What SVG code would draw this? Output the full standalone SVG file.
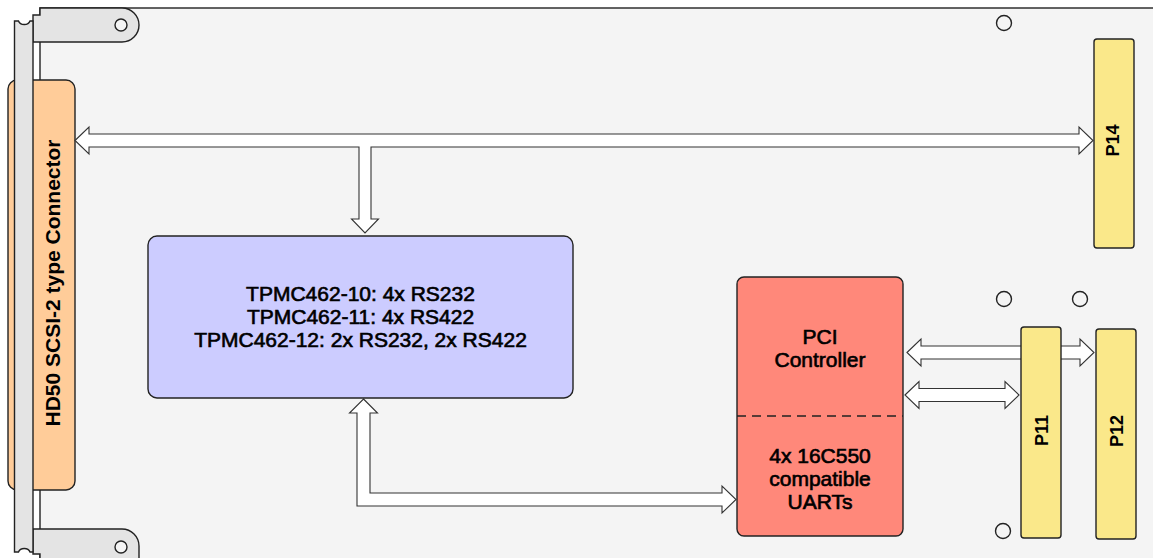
<svg xmlns="http://www.w3.org/2000/svg" width="1153" height="558" viewBox="0 0 1153 558">
<style>
.ol{stroke:#222;stroke-width:1.4}
.metal{fill:#e4e4e4;stroke:#222;stroke-width:1.4}
.hole{fill:#f4f4f4;stroke:#222;stroke-width:1.4}
.arr{fill:#ffffff;stroke:#333;stroke-width:1.1;stroke-linejoin:miter}
.t{font-family:"Liberation Sans",Arial,sans-serif;font-size:21px;fill:#000;stroke:#000;stroke-width:0.65;text-anchor:middle}
.tb{font-family:"Liberation Sans",Arial,sans-serif;font-weight:bold;fill:#000;text-anchor:middle}
.conn{fill:#fae88a;stroke:#222;stroke-width:1.4}
</style>
<rect x="0" y="0" width="1153" height="558" fill="#ffffff"/>
<g id="board">
<rect x="40" y="8" width="1125" height="565" fill="#f4f4f4" class="ol"/>
</g>
<g id="front-panel">
<path class="metal" d="M33,42 L33,15 L40,15 L40,8 L122,8 A17,17 0 0 1 122,42 Z"/>
<path class="metal" d="M33,529 L122,529 A17,17 0 0 1 139,546 L139,565 L40,565 L40,554 L33,554 Z"/>
<circle class="hole" cx="121" cy="25" r="6"/>
<circle class="hole" cx="121" cy="547" r="6"/>
</g>
<g id="hd50-connector">
<rect x="8" y="80" width="67" height="410" rx="9" ry="9" fill="#ffcc99" class="ol"/>
<path class="metal" d="M14.5,21 L18.5,21 A6,5 0 0 0 30,21 L33,21 L33,552 L30,552 A6,5 0 0 0 18.5,552 L14.5,552 Z"/>
<text class="tb" font-size="21" transform="translate(60,283) rotate(-90)">HD50 SCSI-2 type Connector</text>
</g>
<g id="holes">
<circle class="hole" cx="1004" cy="23" r="7.5"/>
<circle class="hole" cx="1004" cy="299" r="7.5"/>
<circle class="hole" cx="1080" cy="299" r="7.5"/>
<circle class="hole" cx="1003" cy="531" r="7.5"/>
</g>
<g id="connectors">
<path class="arr" d="M75,140.5 L89,127 L89,134 L1079,134 L1079,127 L1093,140.5 L1079,154 L1079,147 L371,147 L371,219 L378.5,219 L365,233 L351.5,219 L359,219 L359,147 L89,147 L89,154 Z"/>
<path class="arr" d="M363.5,399 L377.5,413 L370,413 L370,493 L722,493 L722,486 L736,499.5 L722,513 L722,506 L357,506 L357,413 L349.5,413 Z"/>
<path class="arr" d="M907,352.5 L921,339 L921,346 L1080,346 L1080,339 L1094,352.5 L1080,366 L1080,359 L921,359 L921,366 Z"/>
<path class="arr" d="M905,395 L919,381.5 L919,388.5 L1005,388.5 L1005,381.5 L1019,395 L1005,408.5 L1005,401.5 L919,401.5 L919,408.5 Z"/>
</g>
<g id="serial-block">
<rect x="148" y="236" width="425" height="162" rx="9" ry="9" fill="#ccccff" class="ol"/>
<text class="t" x="360.5" y="301">TPMC462-10: 4x RS232</text>
<text class="t" x="360.5" y="324">TPMC462-11: 4x RS422</text>
<text class="t" x="360.5" y="347">TPMC462-12: 2x RS232, 2x RS422</text>
</g>
<g id="pci-uart">
<rect x="737" y="277" width="166" height="259" rx="7" ry="7" fill="#ff887a" class="ol"/>
<line x1="737" y1="416" x2="903" y2="416" stroke="#222" stroke-width="1.4" stroke-dasharray="9,6"/>
<text class="t" x="820" y="344">PCI</text>
<text class="t" x="820" y="367">Controller</text>
<text class="t" x="820" y="463">4x 16C550</text>
<text class="t" x="820" y="486">compatible</text>
<text class="t" x="820" y="509">UARTs</text>
</g>
<g id="p14">
<rect class="conn" x="1094" y="39" width="40" height="209" rx="3" ry="3"/>
<text class="tb" font-size="18" transform="translate(1119,140.5) rotate(-90)">P14</text>
</g>
<g id="p11">
<rect class="conn" x="1021" y="327" width="40" height="211" rx="3" ry="3"/>
<text class="tb" font-size="18" transform="translate(1048,430.5) rotate(-90)">P11</text>
</g>
<g id="p12">
<rect class="conn" x="1096" y="329" width="40" height="210" rx="3" ry="3"/>
<text class="tb" font-size="18" transform="translate(1123,431) rotate(-90)">P12</text>
</g>
</svg>
